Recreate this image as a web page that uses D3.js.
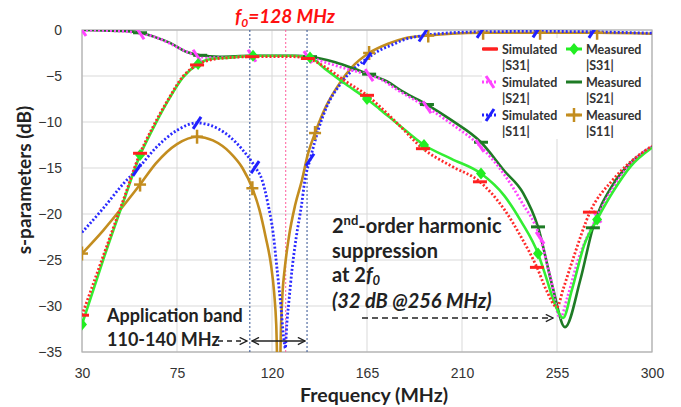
<!DOCTYPE html>
<html lang="en">
<head>
<meta charset="utf-8">
<title>S-parameters</title>
<script src="https://d3js.org/d3.v7.min.js"></script>
<style>
  body { margin: 0; background: #fff; }
  text { font-family: Lato, "Open Sans", sans-serif; }
  .tick text { font-family: "Liberation Sans", Arial, sans-serif; font-size: 14px; fill: #333; }
</style>
</head>
<body>
<script>
// axis ticks
var xTicks = [30, 75, 120, 165, 210, 255, 300];
var yTicks = [0, -5, -10, -15, -20, -25, -30, -35];

// series: [frequency MHz, dB]
var s31Sim = [[30,-31.0],[40,-24.6],[50,-18.2],[57.5,-13.4],[63,-10.8],[70.7,-7.6],[78,-5.0],[84.5,-3.8],[90,-3.3],[100,-3.0],[110.5,-2.9],[120,-2.9],[130,-2.9],[137,-3.1],[145,-4.0],[155,-5.6],[165,-7.1],[171,-8.3],[180,-10.3],[191.5,-12.9],[205,-14.8],[218.5,-16.5],[230,-19.5],[238,-22.5],[245.5,-25.8],[250,-28.3],[255,-30.1],[258,-28.1],[263,-24.6],[270.6,-19.8],[281,-16.4],[290,-14.3],[300,-12.6]];
var s31Meas = [[30,-32.0],[40,-25.0],[50,-18.4],[57.5,-13.6],[63,-11.0],[70.7,-7.7],[78,-5.1],[85,-3.7],[90,-3.2],[100,-3.0],[111,-2.8],[120,-2.8],[130,-2.8],[138,-3.0],[145,-4.2],[155,-5.9],[165,-7.5],[171,-8.6],[180,-10.3],[192,-12.5],[205,-14.0],[219,-15.6],[230,-18.0],[238,-20.8],[246,-24.3],[250,-27.0],[254,-29.8],[257.9,-31.3],[262,-28.3],[268,-23.3],[274,-20.6],[281.5,-17.6],[290,-14.8],[300,-12.8]];
var s21Sim = [[30,0],[40,-0.05],[50,-0.15],[57.5,-0.35],[65,-0.8],[72,-1.5],[78,-2.2],[84.5,-2.8],[90,-3.0],[100,-3.0],[110.5,-2.8],[120,-2.8],[130,-2.8],[137,-2.95],[145,-3.5],[155,-4.2],[166,-4.9],[171,-5.3],[180,-6.6],[193.4,-8.4],[205,-10.2],[218.5,-12.6],[230,-15.7],[238,-18.6],[247,-22.6],[252,-27.0],[256.5,-31.3],[260,-29.0],[265,-25.0],[274,-20.3],[281.5,-17.2],[290,-14.5],[300,-12.7]];
var s21Meas = [[30,0],[40,-0.05],[50,-0.1],[57.5,-0.3],[65,-0.8],[71.7,-1.4],[79.7,-2.4],[86,-2.75],[95,-2.9],[110,-2.8],[120,-2.8],[130,-2.8],[138,-2.9],[150,-3.5],[160,-4.3],[166,-4.8],[174.5,-5.6],[182,-6.7],[193.4,-8.1],[205,-9.8],[219,-12.2],[230,-15.3],[238.9,-17.7],[246,-21.4],[253,-28.0],[258.8,-32.3],[266,-27.2],[272,-21.5],[281.5,-16.8],[290,-14.4],[300,-12.7]];
var s11Sim = [[30,-22.0],[40,-19.4],[50,-16.6],[56,-15.2],[65,-12.8],[75,-10.9],[84.5,-10.1],[90,-10.3],[100,-11.6],[106,-13.0],[112,-14.9],[115.3,-16.3],[118,-18.8],[120.5,-22.0],[122.4,-26.0],[124.2,-30.0],[125.8,-34.0],[126.3,-34.6],[127,-32.0],[128,-29.5],[129.5,-26.0],[131.5,-22.5],[134,-19.0],[135.6,-16.3],[138,-14.1],[142,-10.8],[146,-8.3],[152,-6.0],[158.4,-4.3],[165,-3.1],[171,-2.2],[177,-1.6],[182,-1.1],[191.5,-0.6],[205,-0.3],[219,-0.2],[245.5,-0.15],[272,-0.2],[300,-0.35]];
var s11Meas = [[30,-24.3],[40,-21.8],[50,-19.0],[57.5,-16.8],[65,-14.5],[75,-12.4],[84.5,-11.6],[92,-12.0],[100,-13.3],[106,-15.0],[110.7,-17.2],[114,-19.5],[117,-22.5],[119.5,-25.5],[121,-28.5],[122,-32.0],[122.8,-38.0],[123.6,-38.0],[124.3,-32.0],[125,-28.5],[126,-26.0],[128,-22.5],[131,-19.0],[134.2,-16.3],[137,-13.5],[140.4,-11.2],[145.6,-8.3],[152,-5.8],[158,-4.0],[166,-2.5],[175,-1.5],[183,-0.9],[194,-0.6],[205,-0.4],[220,-0.3],[247,-0.3],[274,-0.3],[300,-0.4]];

// marker points
var s31SimMarks = [[30,-31.0],[57.5,-13.4],[84.5,-3.8],[110.5,-2.9],[137,-3.1],[165,-7.1],[191.5,-12.9],[218.5,-16.5],[245.5,-25.8],[270.6,-19.8]];
var s31MeasMarks = [[30,-32.0],[57.5,-13.6],[85,-3.7],[111,-2.8],[138,-3.0],[165,-7.5],[192,-12.5],[219,-15.6],[246,-24.3],[274,-20.6]];
var s21SimMarks = [[30,0],[57.5,-0.35],[84.5,-2.8],[110.5,-2.8],[137,-2.95],[166,-4.9],[193.4,-8.4],[218.5,-12.6],[247,-22.6],[274,-20.3]];
var s21MeasMarks = [[57.5,-0.3],[86,-2.75],[138,-2.9],[166,-4.8],[193.4,-8.1],[219,-12.2],[246,-21.4],[272,-21.5]];
var s11SimMarks = [[56,-15.2],[84.5,-10.1],[112,-14.9],[138,-14.1],[165,-3.1],[191.5,-0.6],[219,-0.2],[245.5,-0.15],[272,-0.2]];
var s11MeasMarks = [[30,-24.3],[57.5,-16.8],[84.5,-11.6],[110.7,-17.2],[140.4,-11.2],[166,-2.5],[194,-0.6],[220,-0.3],[247,-0.3],[274,-0.3]];

// reference lines (MHz)
var bandEdges = [109.5, 136.6];
var centreLine = 126.5;

var width = 681, height = 407;
var plotL = 82, plotR = 652, plotT = 30, plotB = 352;

var svg = d3.select("body").append("svg")
    .attr("width", width).attr("height", height);

var x = d3.scaleLinear().domain([30, 300]).range([plotL, plotR]);
var y = d3.scaleLinear().domain([-35, 0]).range([plotB, plotT]);

var defs = svg.append("defs");
defs.append("clipPath").attr("id", "plotclip")
  .append("rect").attr("x", plotL).attr("y", plotT)
  .attr("width", plotR - plotL).attr("height", plotB - plotT);

// arrow heads
defs.append("marker").attr("id", "arr").attr("viewBox", "0 0 10 10")
  .attr("refX", 9).attr("refY", 5).attr("markerWidth", 9).attr("markerHeight", 9)
  .attr("markerUnits", "userSpaceOnUse").attr("orient", "auto-start-reverse")
  .append("path").attr("d", "M1,1 L9,5 L1,9").attr("fill", "none")
  .attr("stroke", "#222").attr("stroke-width", 1.5);

// grid
svg.append("g").selectAll("line").data(xTicks).enter().append("line")
  .attr("x1", d => x(d)).attr("x2", d => x(d))
  .attr("y1", plotT).attr("y2", plotB)
  .attr("stroke", "#d9d9d9").attr("stroke-width", 1);
svg.append("g").selectAll("line").data(yTicks).enter().append("line")
  .attr("x1", plotL).attr("x2", plotR)
  .attr("y1", d => y(d)).attr("y2", d => y(d))
  .attr("stroke", "#d9d9d9").attr("stroke-width", 1);

// legend background hides the grid
svg.append("rect").attr("x", 482).attr("y", 38).attr("width", plotR - 482 - 1).attr("height", 101)
  .attr("fill", "#fff");

// frame
svg.append("rect").attr("x", plotL).attr("y", plotT)
  .attr("width", plotR - plotL).attr("height", plotB - plotT)
  .attr("fill", "none").attr("stroke", "#b0b0b0").attr("stroke-width", 1.2);

// axes
var xAxis = svg.append("g").attr("transform", "translate(0," + plotB + ")")
  .call(d3.axisBottom(x).tickValues(xTicks).tickSize(0).tickPadding(16));
xAxis.select(".domain").remove();
var yAxis = svg.append("g").attr("transform", "translate(" + plotL + ",0)")
  .call(d3.axisLeft(y).tickValues(yTicks).tickSize(0).tickPadding(20));
yAxis.select(".domain").remove();

svg.append("text").attr("x", 374).attr("y", 402)
  .attr("text-anchor", "middle").attr("font-size", 19.5).attr("font-weight", "bold")
  .attr("fill", "#222").text("Frequency (MHz)");
svg.append("text").attr("transform", "translate(31," + 180 + ") rotate(-90)")
  .attr("text-anchor", "middle").attr("font-size", 19).attr("font-weight", "bold")
  .attr("fill", "#222").text("s-parameters (dB)");

// vertical reference lines
var plot = svg.append("g").attr("clip-path", "url(#plotclip)");
plot.selectAll(".band").data(bandEdges).enter().append("line")
  .attr("x1", d => x(d)).attr("x2", d => x(d)).attr("y1", plotT).attr("y2", plotB)
  .attr("stroke", "#2f4f8f").attr("stroke-width", 1).attr("stroke-dasharray", "2,2");
plot.append("line").attr("x1", x(centreLine)).attr("x2", x(centreLine))
  .attr("y1", plotT).attr("y2", plotB)
  .attr("stroke", "#ff5c9a").attr("stroke-width", 1).attr("stroke-dasharray", "2,2");

var line = d3.line().x(d => x(d[0])).y(d => y(d[1])).curve(d3.curveMonotoneX);

var series = [
  { data: s11Meas, color: "#c38d1f", dash: null, w: 2.6 },
  { data: s11Sim, color: "#2a2aff", dash: "2,2", w: 2.8 },
  { data: s21Meas, color: "#1e7b25", dash: null, w: 2.6 },
  { data: s21Sim, color: "#ff44ff", dash: "2,2", w: 2.8 },
  { data: s31Meas, color: "#33ee33", dash: null, w: 2.6 },
  { data: s31Sim, color: "#ff2a2a", dash: "2,2", w: 2.8 }
];
series.forEach(function(s) {
  plot.append("path").datum(s.data).attr("d", line)
    .attr("fill", "none").attr("stroke", s.color).attr("stroke-width", s.w)
    .attr("stroke-dasharray", s.dash);
});

// marker shapes
function drawMark(g, kind, color, px, py) {
  if (kind === "dash") {
    g.append("line").attr("x1", px - 7).attr("x2", px + 7).attr("y1", py).attr("y2", py)
      .attr("stroke", color).attr("stroke-width", 3);
  } else if (kind === "diamond") {
    g.append("path").attr("d", "M" + px + "," + (py - 6) + "L" + (px + 5) + "," + py + "L" + px + "," + (py + 6) + "L" + (px - 5) + "," + py + "Z")
      .attr("fill", color);
  } else if (kind === "back") {
    g.append("line").attr("x1", px - 4).attr("x2", px + 4).attr("y1", py - 6).attr("y2", py + 6)
      .attr("stroke", color).attr("stroke-width", 3);
  } else if (kind === "fwd") {
    g.append("line").attr("x1", px - 4).attr("x2", px + 4).attr("y1", py + 6).attr("y2", py - 6)
      .attr("stroke", color).attr("stroke-width", 3);
  } else if (kind === "plus") {
    g.append("line").attr("x1", px - 6).attr("x2", px + 6).attr("y1", py).attr("y2", py)
      .attr("stroke", color).attr("stroke-width", 2.5);
    g.append("line").attr("x1", px).attr("x2", px).attr("y1", py - 7).attr("y2", py + 7)
      .attr("stroke", color).attr("stroke-width", 2.5);
  }
}

var markSets = [
  { pts: s11MeasMarks, kind: "plus", color: "#c38d1f" },
  { pts: s11SimMarks, kind: "fwd", color: "#2020ff" },
  { pts: s21MeasMarks, kind: "dash", color: "#1e7b25" },
  { pts: s21SimMarks, kind: "back", color: "#ff44ff" },
  { pts: s31MeasMarks, kind: "diamond", color: "#22ee22" },
  { pts: s31SimMarks, kind: "dash", color: "#ff2020" }
];
var markG = plot.append("g");
markSets.forEach(function(m) {
  m.pts.forEach(function(p) { drawMark(markG, m.kind, m.color, x(p[0]), y(p[1])); });
});

// legend
var legendItems = [
  { name: "Simulated", sub: "|S31|", kind: "dash", color: "#ff2020", col: 0, row: 0, dash: null },
  { name: "Measured", sub: "|S31|", kind: "diamond", color: "#22ee22", col: 1, row: 0, dash: null },
  { name: "Simulated", sub: "|S21|", kind: "back", color: "#ff44ff", col: 0, row: 1, dash: "2,2" },
  { name: "Measured", sub: "|S21|", kind: "none", color: "#1e7b25", col: 1, row: 1, dash: null },
  { name: "Simulated", sub: "|S11|", kind: "fwd", color: "#2020ff", col: 0, row: 2, dash: "2,2" },
  { name: "Measured", sub: "|S11|", kind: "plus", color: "#c38d1f", col: 1, row: 2, dash: null }
];
var lg = svg.append("g");
var colX = [490, 574], rowY = [49, 82, 115];
legendItems.forEach(function(it) {
  var cx = colX[it.col], cy = rowY[it.row];
  lg.append("line").attr("x1", cx - 8).attr("x2", cx + 8).attr("y1", cy).attr("y2", cy)
    .attr("stroke", it.color).attr("stroke-width", 3).attr("stroke-dasharray", it.dash);
  if (it.kind !== "none") drawMark(lg, it.kind, it.color, cx, cy);
  lg.append("text").attr("x", cx + 12).attr("y", cy + 5).attr("font-size", 12.5)
    .attr("font-weight", "bold").attr("fill", "#333").text(it.name);
  lg.append("text").attr("x", cx + 12).attr("y", cy + 21).attr("font-size", 12.5)
    .attr("font-weight", "bold").attr("fill", "#333").text(it.sub);
});

// f0 label
var f0 = svg.append("text").attr("x", 235).attr("y", 23).attr("font-size", 19)
  .attr("font-weight", "bold").attr("font-style", "italic").attr("fill", "#ff1010");
f0.append("tspan").text("f");
f0.append("tspan").attr("font-size", 12).attr("dy", 4).text("0");
f0.append("tspan").attr("dy", -4).text("=128 MHz");

// application band annotation
svg.append("text").attr("x", 107).attr("y", 322).attr("font-size", 18)
  .attr("font-weight", "bold").attr("fill", "#222").text("Application band");
svg.append("text").attr("x", 107).attr("y", 346).attr("font-size", 18)
  .attr("font-weight", "bold").attr("fill", "#222").text("110-140 MHz");
svg.append("line").attr("x1", 218).attr("x2", x(bandEdges[0]) - 3).attr("y1", 341).attr("y2", 341)
  .attr("stroke", "#222").attr("stroke-width", 1.5).attr("stroke-dasharray", "5,4")
  .attr("marker-end", "url(#arr)");
svg.append("line").attr("x1", x(bandEdges[0]) + 2).attr("x2", x(bandEdges[1]) - 2).attr("y1", 341).attr("y2", 341)
  .attr("stroke", "#222").attr("stroke-width", 1.5)
  .attr("marker-start", "url(#arr)").attr("marker-end", "url(#arr)");

// harmonic annotation
var t1 = svg.append("text").attr("x", 332).attr("y", 233).attr("font-size", 20)
  .attr("font-weight", "bold").attr("fill", "#222");
t1.append("tspan").text("2");
t1.append("tspan").attr("font-size", 13).attr("dy", -8).text("nd");
t1.append("tspan").attr("dy", 8).text("-order harmonic");
svg.append("text").attr("x", 332).attr("y", 258).attr("font-size", 20)
  .attr("font-weight", "bold").attr("fill", "#222").text("suppression");
var t3 = svg.append("text").attr("x", 332).attr("y", 282).attr("font-size", 20)
  .attr("font-weight", "bold").attr("fill", "#222");
t3.append("tspan").text("at 2");
t3.append("tspan").attr("font-style", "italic").text("f");
t3.append("tspan").attr("font-style", "italic").attr("font-size", 13).attr("dy", 3).text("0");
svg.append("text").attr("x", 332).attr("y", 308).attr("font-size", 20)
  .attr("font-weight", "bold").attr("font-style", "italic").attr("fill", "#222")
  .text("(32 dB @256 MHz)");
svg.append("line").attr("x1", 362).attr("x2", 553).attr("y1", 318).attr("y2", 318)
  .attr("stroke", "#222").attr("stroke-width", 1.5).attr("stroke-dasharray", "6,4")
  .attr("marker-end", "url(#arr)");
</script>
</body>
</html>
